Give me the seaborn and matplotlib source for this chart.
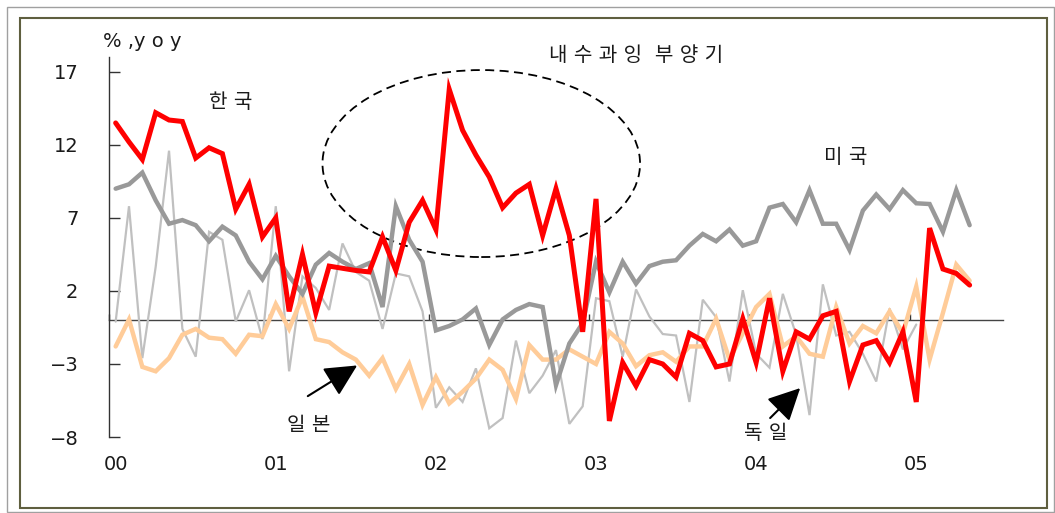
import numpy as np
import pandas as pd
import matplotlib
matplotlib.use("Agg")
import matplotlib.pyplot as plt
from matplotlib.patches import Ellipse, Rectangle
import seaborn as sns

# Monthly year-on-year growth (%), Jan 2000 onwards
korea = [13.5, 12.2, 11.0, 14.2, 13.7, 13.6, 11.1, 11.8, 11.4, 7.6, 9.3, 5.7,
         7.0, 0.6, 4.5, 0.5, 3.7, 3.55, 3.4, 3.3, 5.7, 3.4, 6.7, 8.2,
         6.2, 15.8, 13.0, 11.3, 9.8, 7.7, 8.7, 9.3, 5.8, 9.0, 5.8, -0.8,
         8.3, -6.9, -2.9, -4.5, -2.7, -3.0, -3.9, -0.9, -1.4, -3.2, -3.0, 0.1,
         -2.9, 1.5, -3.5, -0.8, -1.3, 0.3, 0.6, -4.2, -1.7, -1.4, -2.9, -0.8,
         -5.6, 6.3, 3.5, 3.2, 2.4]
usa = [9.0, 9.3, 10.1, 8.2, 6.6, 6.85, 6.5, 5.4, 6.4, 5.8, 4.0, 2.8,
       4.4, 3.0, 1.8, 3.8, 4.6, 4.0, 3.5, 3.9, 0.9, 7.8, 5.5, 4.0,
       -0.7, -0.4, 0.05, 0.8, -1.7, 0.05, 0.7, 1.1, 0.9, -4.45, -1.6, -0.2,
       4.0, 1.9, 4.0, 2.5, 3.7, 4.0, 4.1, 5.1, 5.9, 5.4, 6.2, 5.1,
       5.4, 7.7, 7.95, 6.7, 8.9, 6.6, 6.6, 4.8, 7.5, 8.6, 7.6, 8.9,
       8.0, 7.95, 6.05, 8.9, 6.5]
japan = [-1.8, 0.05, -3.2, -3.5, -2.6, -1.0, -0.6, -1.2, -1.3, -2.3, -1.0, -1.1,
         1.1, -0.6, 1.6, -1.3, -1.5, -2.2, -2.7, -3.8, -2.6, -4.7, -3.0, -5.8,
         -3.9, -5.7, -4.9, -4.0, -2.7, -3.4, -5.4, -1.7, -2.7, -2.7, -2.0, -2.5,
         -3.0, -0.8, -1.6, -3.15, -2.4, -2.2, -2.85, -1.8, -1.8, 0.1, -2.7, -0.9,
         0.9, 1.8, -1.8, -1.1, -2.3, -2.5, 0.9, -1.6, -0.4, -0.9, 0.6, -0.9,
         2.3, -2.7, 0.5, 3.8, 2.7]
germany = [-0.1, 7.8, -2.6, 3.65, 11.6, -0.6, -2.5, 6.05, 5.5, -0.1, 2.05, -1.3,
           7.8, -3.5, 3.0, 2.2, 0.7, 5.25, 3.3, 2.7, -0.6, 3.2, 3.0, 0.6,
           -6.0, -4.6, -5.6, -3.3, -7.4, -6.7, -1.4, -5.0, -3.8, -2.05, -7.1, -5.9,
           1.5, 1.3, -2.5, 2.1, 0.25, -0.95, -1.05, -5.6, 1.4, 0.2, -4.2, 2.05,
           -2.3, -3.25, 1.8, -1.0, -6.5, 2.45, -1.05, -0.8, -2.3, -4.2, 0.8, -2.0,
           -0.3]

year_labels = ["00", "01", "02", "03", "04", "05"]
ytick_values = [-8, -3, 2, 7, 12, 17]

sns.set_theme(style="white")
# Latin glyphs and spaces from DejaVu, Hangul falls through to Noto CJK
plt.rcParams["font.family"] = ["DejaVu Sans", "Noto Sans CJK KR"]
plt.rcParams["axes.unicode_minus"] = True

months = np.arange(len(korea))
df = pd.DataFrame({"month": months, "korea": korea, "usa": usa, "japan": japan})
df["germany"] = pd.Series(germany, dtype=float)

fig = plt.figure(figsize=(10.55, 5.13), dpi=100)
ax = fig.add_axes([0.1033, 0.1481, 0.8474, 0.7404])

# series styles: thin light grey underneath, Korea drawn last on top
styles = [
    ("germany", "#c0c0c0", 1.6),
    ("japan", "#ffcc99", 3.2),
    ("usa", "#999999", 3.2),
    ("korea", "#ff0000", 3.6),
]
for col, color, lw in styles:
    sns.lineplot(data=df, x="month", y=col, color=color, linewidth=lw, ax=ax,
                 solid_joinstyle="miter")

ax.set_xlim(-0.5, 66.5)
ax.set_ylim(-8, 18)
ax.set_xlabel("")
ax.set_ylabel("")

ax.set_yticks(ytick_values)
ax.set_yticklabels([str(v).replace("-", "\u2212") for v in ytick_values])
ax.tick_params(axis="y", direction="in", length=8, width=1, pad=22,
               color="#333333", labelcolor="#1a1a1a", labelsize=14, left=True)

year_pos = [12 * k for k in range(len(year_labels))]
ax.set_xticks(year_pos)
ax.set_xticklabels(year_labels)
ax.tick_params(axis="x", length=0, pad=13, labelcolor="#1a1a1a", labelsize=14)

for side in ["top", "right", "bottom"]:
    ax.spines[side].set_visible(False)
ax.spines["left"].set_color("#333333")
ax.spines["left"].set_linewidth(1)

# zero line acting as the category axis, with small inward ticks
zero_axis = ax.secondary_xaxis(8 / 26)
zero_axis.set_xticks([p - 0.5 for p in year_pos])
zero_axis.tick_params(direction="in", length=4, width=1, color="#333333",
                      labelbottom=False)
zero_axis.spines["bottom"].set_color("#444444")
zero_axis.spines["bottom"].set_linewidth(1)

# annotations
txt = dict(ha="center", va="center", color="#1a1a1a")
ax.text(2.0, 19.05, "% ,y o y", fontsize=14, clip_on=False, **txt)
ax.text(8.6, 14.9, "한 국", fontsize=14.5, **txt)
ax.text(54.7, 11.1, "미 국", fontsize=14.5, **txt)
ax.text(39.0, 18.15, "내 수 과 잉  부 양 기", fontsize=14.5, clip_on=False, **txt)
ax.text(14.5, -7.2, "일 본", fontsize=14.5, **txt)
ax.text(48.7, -7.75, "독 일", fontsize=14.5, **txt)

arrow_kw = dict(arrowstyle="-|>,head_length=0.9,head_width=0.45", color="black",
                lw=1.5, mutation_scale=22, shrinkA=0, shrinkB=0)
ax.annotate("", xy=(18.1, -3.1), xytext=(14.4, -5.2), arrowprops=arrow_kw)
ax.annotate("", xy=(51.3, -4.65), xytext=(49.05, -6.7), arrowprops=arrow_kw)

ax.add_patch(Ellipse((27.4, 10.72), width=23.8, height=12.8, fill=False,
                     edgecolor="black", linewidth=1.3, linestyle=(0, (5, 3)),
                     clip_on=False))

# double frame around the figure
fig.add_artist(Rectangle((7 / 1055, 1 - 512 / 513), 1047 / 1055, 505 / 513,
                         transform=fig.transFigure, fill=False,
                         edgecolor="#a0a0a0", linewidth=1))
fig.add_artist(Rectangle((20 / 1055, 1 - 508 / 513), 1027 / 1055, 490 / 513,
                         transform=fig.transFigure, fill=False,
                         edgecolor="#5f5f3f", linewidth=1.5))

fig.savefig("out.png", dpi=100)
